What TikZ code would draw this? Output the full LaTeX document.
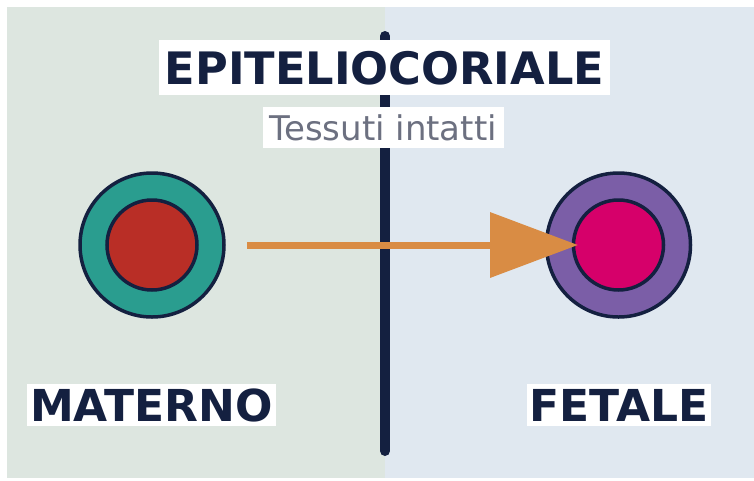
\documentclass[tikz,border=0pt]{standalone}
\usepackage{fontspec}
\setmainfont{DejaVu Sans}
\usetikzlibrary{arrows.meta}
\definecolor{navy}{RGB}{20,32,64}
\definecolor{panelL}{RGB}{221,230,224}
\definecolor{panelR}{RGB}{224,232,240}
\definecolor{teal}{RGB}{42,157,143}
\definecolor{redin}{RGB}{185,46,38}
\definecolor{purp}{RGB}{123,94,167}
\definecolor{magin}{RGB}{214,0,106}
\definecolor{orng}{RGB}{217,140,68}
\definecolor{subgray}{RGB}{108,112,128}
\tikzset{
  outerc/.style={circle, draw=navy, line width=3.5pt, minimum size=144pt, inner sep=0pt, outer sep=0pt},
  innerc/.style={circle, draw=navy, line width=3.5pt, minimum size=90pt, inner sep=0pt, outer sep=0pt},
  biglabel/.style={fill=white, text=navy, font=\bfseries\fontsize{44}{50}\selectfont, inner xsep=3pt, inner ysep=5pt, text height=32pt, text depth=0pt},
  arr/.style={draw=orng, line width=7pt, -{Triangle[length=88pt,width=64pt]}},
}
\begin{document}
\begin{tikzpicture}[x=1pt,y=-1pt]
\useasboundingbox (0,0) rectangle (754,480);
% panels
\fill[panelL] (7,7) rectangle (385,478);
\fill[panelR] (385,7) rectangle (754,478);
% divider
\coordinate (dtop) at (385,36);
\coordinate (dbot) at (385,451);
\draw[navy, line width=10pt, line cap=round] (dtop) -- (dbot);
% title and subtitle
\node[fill=white, text=navy, font=\bfseries\fontsize{44.7}{50}\selectfont, inner xsep=6pt, inner ysep=11pt, text height=33pt, text depth=0pt] (title) at (384.5,67.5) {EPITELIOCORIALE};
\node[fill=white, text=subgray, font=\fontsize{34}{40}\selectfont, minimum width=241pt, minimum height=41pt, inner sep=0pt, text height=25pt, text depth=0pt] (sub) at (383,127.5) {Tessuti intatti};
% circles
\node[outerc, fill=teal] (mat) at (152,245) {};
\node[innerc, fill=redin] (matin) at (152,245) {};
\node[outerc, fill=purp] (fet) at (618.5,245) {};
\node[innerc, fill=magin] (fetin) at (618.5,245) {};
% arrow
\draw[arr, shorten <=23pt, shorten >=-4.5pt] (mat.east) -- (fetin.west);
% labels
\node[biglabel] (lmat) at (151.5,405) {MATERNO};
\node[biglabel] (lfet) at (619,405) {FETALE};
\end{tikzpicture}
\end{document}
